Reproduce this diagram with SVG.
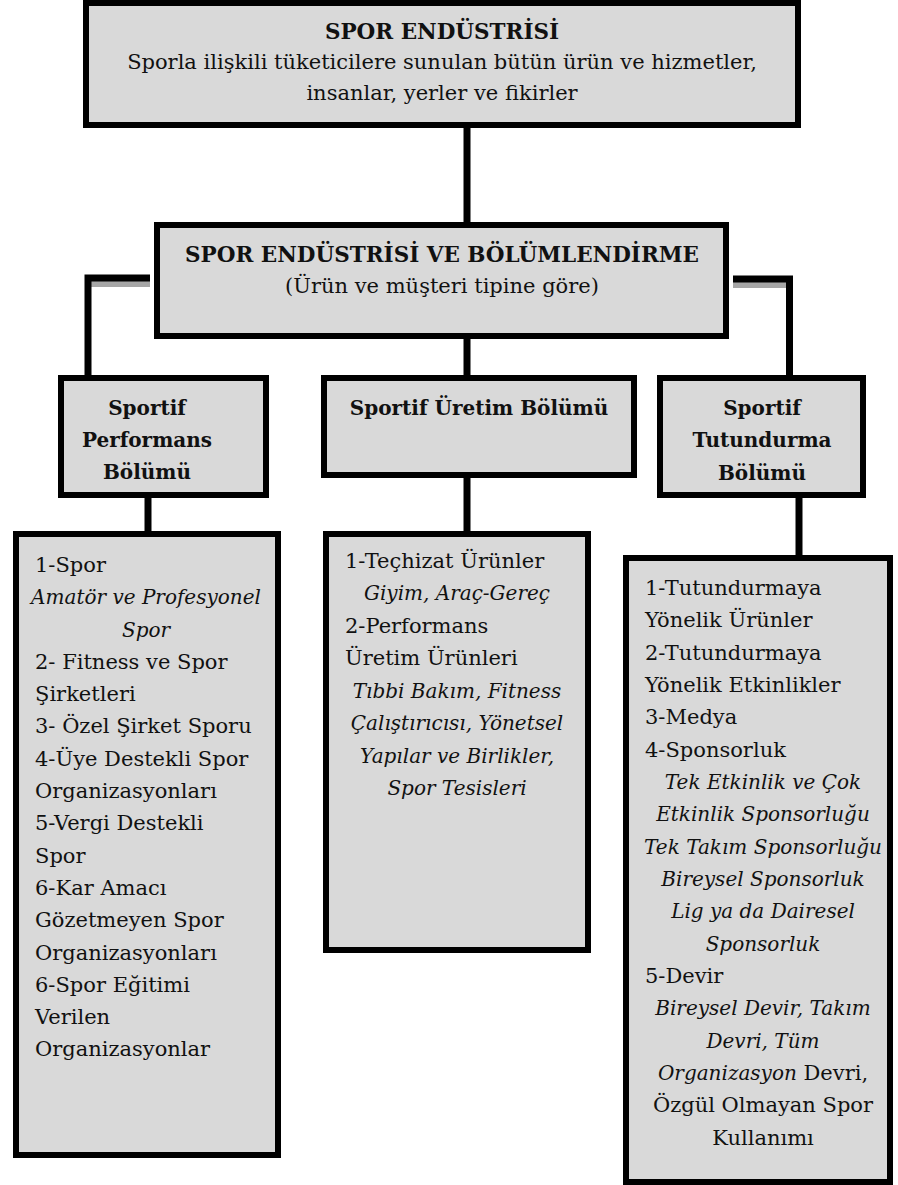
<svg xmlns="http://www.w3.org/2000/svg" width="898" height="1185" viewBox="0 0 898 1185">
<style>
.box{fill:#d9d9d9;stroke:#000;stroke-width:6}
.con{fill:none;stroke:#000;stroke-width:7;stroke-linejoin:miter;stroke-linecap:butt}
.sh{fill:#a6a6a6}
.t{font-family:"DejaVu Serif","Liberation Serif",serif;font-size:21px;fill:#111}
.b{font-family:"DejaVu Serif","Liberation Serif",serif;font-weight:bold;fill:#111}
.i{font-style:italic;font-size:20px}
.c{text-anchor:middle}
</style>
<rect width="898" height="1185" fill="#fff"/>
<g id="connectors">
<line class="con" x1="467" y1="126" x2="467" y2="224"/>
<line class="con" x1="467" y1="337" x2="467" y2="377"/>
<rect class="sh" x="91" y="281" width="59" height="6"/>
<path class="con" d="M150 278 H88 V377"/>
<rect class="sh" x="733" y="282" width="53" height="6"/>
<path class="con" d="M733 279 H789.5 V377"/>
<line class="con" x1="148" y1="496" x2="148" y2="533"/>
<line class="con" x1="467" y1="476" x2="467" y2="533"/>
<line class="con" x1="799" y1="496" x2="799" y2="557"/>
</g>
<g id="spor-endustrisi">
<rect class="box" x="86" y="3" width="712" height="122"/>
<text class="b c" x="442" y="39" font-size="21.5">SPOR ENDÜSTRİSİ</text>
<text class="t c" x="442" y="69" font-size="22">Sporla ilişkili tüketicilere sunulan bütün ürün ve hizmetler,</text>
<text class="t c" x="442" y="100" font-size="22">insanlar, yerler ve fikirler</text>
</g>
<g id="bolumlendirme">
<rect class="box" x="157" y="225" width="569" height="111"/>
<text class="b c" x="442" y="262" font-size="21.5">SPOR ENDÜSTRİSİ VE BÖLÜMLENDİRME</text>
<text class="t c" x="442" y="293">(Ürün ve müşteri tipine göre)</text>
</g>
<g id="performans">
<rect class="box" x="61" y="378" width="205" height="117"/>
<text class="b c" x="147" y="415" font-size="20">Sportif</text>
<text class="b c" x="147" y="447" font-size="20">Performans</text>
<text class="b c" x="147" y="479" font-size="20">Bölümü</text>
</g>
<g id="uretim">
<rect class="box" x="324" y="378" width="310" height="97"/>
<text class="b c" x="479" y="415" font-size="20">Sportif Üretim Bölümü</text>
</g>
<g id="tutundurma">
<rect class="box" x="660" y="378" width="203" height="117"/>
<text class="b c" x="762" y="415" font-size="20">Sportif</text>
<text class="b c" x="762" y="447" font-size="20">Tutundurma</text>
<text class="b c" x="762" y="480" font-size="20">Bölümü</text>
</g>
<g id="performans-list">
<rect class="box" x="16" y="534" width="262" height="621"/>
<text class="t" x="35" y="572">1-Spor</text>
<text class="t i c" x="146" y="604">Amatör ve Profesyonel</text>
<text class="t i c" x="146" y="637">Spor</text>
<text class="t" x="35" y="669">2- Fitness ve Spor</text>
<text class="t" x="35" y="701">Şirketleri</text>
<text class="t" x="35" y="733">3- Özel Şirket Sporu</text>
<text class="t" x="35" y="766">4-Üye Destekli Spor</text>
<text class="t" x="35" y="798">Organizasyonları</text>
<text class="t" x="35" y="830">5-Vergi Destekli</text>
<text class="t" x="35" y="863">Spor</text>
<text class="t" x="35" y="895">6-Kar Amacı</text>
<text class="t" x="35" y="927">Gözetmeyen Spor</text>
<text class="t" x="35" y="960">Organizasyonları</text>
<text class="t" x="35" y="992">6-Spor Eğitimi</text>
<text class="t" x="35" y="1024">Verilen</text>
<text class="t" x="35" y="1056">Organizasyonlar</text>
</g>
<g id="uretim-list">
<rect class="box" x="326" y="534" width="262" height="416"/>
<text class="t" x="345" y="568">1-Teçhizat Ürünler</text>
<text class="t i c" x="457" y="600">Giyim, Araç-Gereç</text>
<text class="t" x="345" y="633">2-Performans</text>
<text class="t" x="345" y="665">Üretim Ürünleri</text>
<text class="t i c" x="457" y="698">Tıbbi Bakım, Fitness</text>
<text class="t i c" x="457" y="730">Çalıştırıcısı, Yönetsel</text>
<text class="t i c" x="457" y="763">Yapılar ve Birlikler,</text>
<text class="t i c" x="457" y="795">Spor Tesisleri</text>
</g>
<g id="tutundurma-list">
<rect class="box" x="626" y="558" width="264" height="624"/>
<text class="t" x="645" y="595">1-Tutundurmaya</text>
<text class="t" x="645" y="627">Yönelik Ürünler</text>
<text class="t" x="645" y="660">2-Tutundurmaya</text>
<text class="t" x="645" y="692">Yönelik Etkinlikler</text>
<text class="t" x="645" y="724">3-Medya</text>
<text class="t" x="645" y="757">4-Sponsorluk</text>
<text class="t i c" x="763" y="789">Tek Etkinlik ve Çok</text>
<text class="t i c" x="763" y="821">Etkinlik Sponsorluğu</text>
<text class="t i c" x="763" y="854" font-size="19.5">Tek Takım Sponsorluğu</text>
<text class="t i c" x="763" y="886">Bireysel Sponsorluk</text>
<text class="t i c" x="763" y="918">Lig ya da Dairesel</text>
<text class="t i c" x="763" y="951">Sponsorluk</text>
<text class="t" x="645" y="983">5-Devir</text>
<text class="t i c" x="763" y="1015">Bireysel Devir, Takım</text>
<text class="t i c" x="763" y="1048">Devri, Tüm</text>
<text class="t c" x="763" y="1080"><tspan font-style="italic" font-size="20">Organizasyon</tspan> Devri,</text>
<text class="t c" x="763" y="1112">Özgül Olmayan Spor</text>
<text class="t c" x="763" y="1145">Kullanımı</text>
</g>
</svg>
